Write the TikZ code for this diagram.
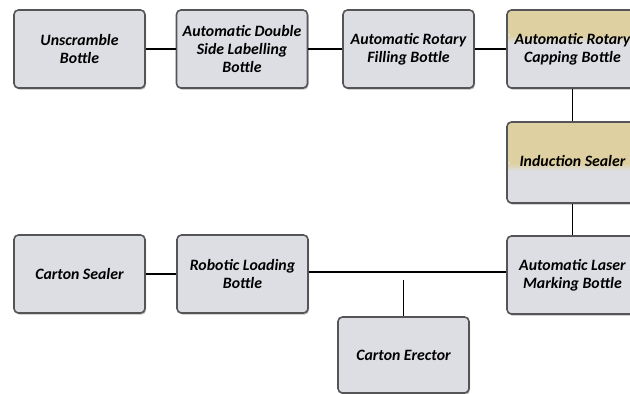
\documentclass[tikz,border=0pt]{standalone}
\usepackage{fontspec}
\setmainfont{Carlito}
\usetikzlibrary{shadows}
\definecolor{boxfill}{RGB}{221,222,228}
\definecolor{boxline}{RGB}{85,85,88}
\definecolor{tanfill}{RGB}{222,208,160}
\tikzset{
  px/.style={x=0.02cm,y=-0.02cm},
  procbox/.style={draw=boxline, line width=0.9pt, fill=boxfill, rounded corners=2.5pt,
    minimum width=2.62cm, minimum height=1.56cm, inner sep=1pt, align=center,
    font=\fontsize{9}{10.4}\selectfont\bfseries\itshape,
    drop shadow={shadow xshift=0.6pt, shadow yshift=-0.9pt, opacity=0.45, fill=black!60}},
  tanbox/.style={procbox, path picture={
     \fill[tanfill] (path picture bounding box.north west) rectangle ([yshift=-#1]path picture bounding box.north east);
     \shade[top color=tanfill, bottom color=boxfill] ([yshift=-#1]path picture bounding box.north west) rectangle ([yshift=-#1-0.16cm]path picture bounding box.north east);}},
  link/.style={draw=black, line width=0.9pt}
}
\begin{document}
\begin{tikzpicture}[px]
\useasboundingbox (0,0) rectangle (630,394);
\node[procbox] (n1) at (79.5,49) {Unscramble\\Bottle};
\node[procbox] (n2) at (242,49) {Automatic Double\\Side Labelling\\Bottle};
\node[procbox] (n3) at (408.5,49) {Automatic Rotary\\Filling Bottle};
\node[tanbox=0.5cm] (n4) at (572.5,49) {Automatic Rotary\\Capping Bottle};
\node[tanbox=0.82cm, minimum height=1.62cm] (n5) at (572.5,162.5) {\\[2pt]Induction Sealer\\[-2pt]\mbox{}};
\node[procbox] (n6) at (572.5,275) {Automatic Laser\\Marking Bottle};
\node[procbox] (n7) at (242.5,274) {Robotic Loading\\Bottle};
\node[procbox] (n8) at (79.5,274) {Carton Sealer};
\node[procbox, minimum height=1.52cm] (n9) at (403.5,355) {Carton Erector};
\coordinate (c9) at (403.5,280);
\draw[link] (n1.east) -- (n2.west);
\draw[link] (n2.east) -- (n3.west);
\draw[link] (n3.east) -- (n4.west);
\draw[link] (n4.south) -- (n5.north);
\draw[link] (n5.south) -- (n6.north);
\draw[link] (n8.east) -- (n7.west);
\draw[link] ([yshift=0.04cm]n7.east) -- ([yshift=0.04cm]n7.east -| n6.west);
\draw[link] (c9) -- (n9.north);
\end{tikzpicture}
\end{document}
